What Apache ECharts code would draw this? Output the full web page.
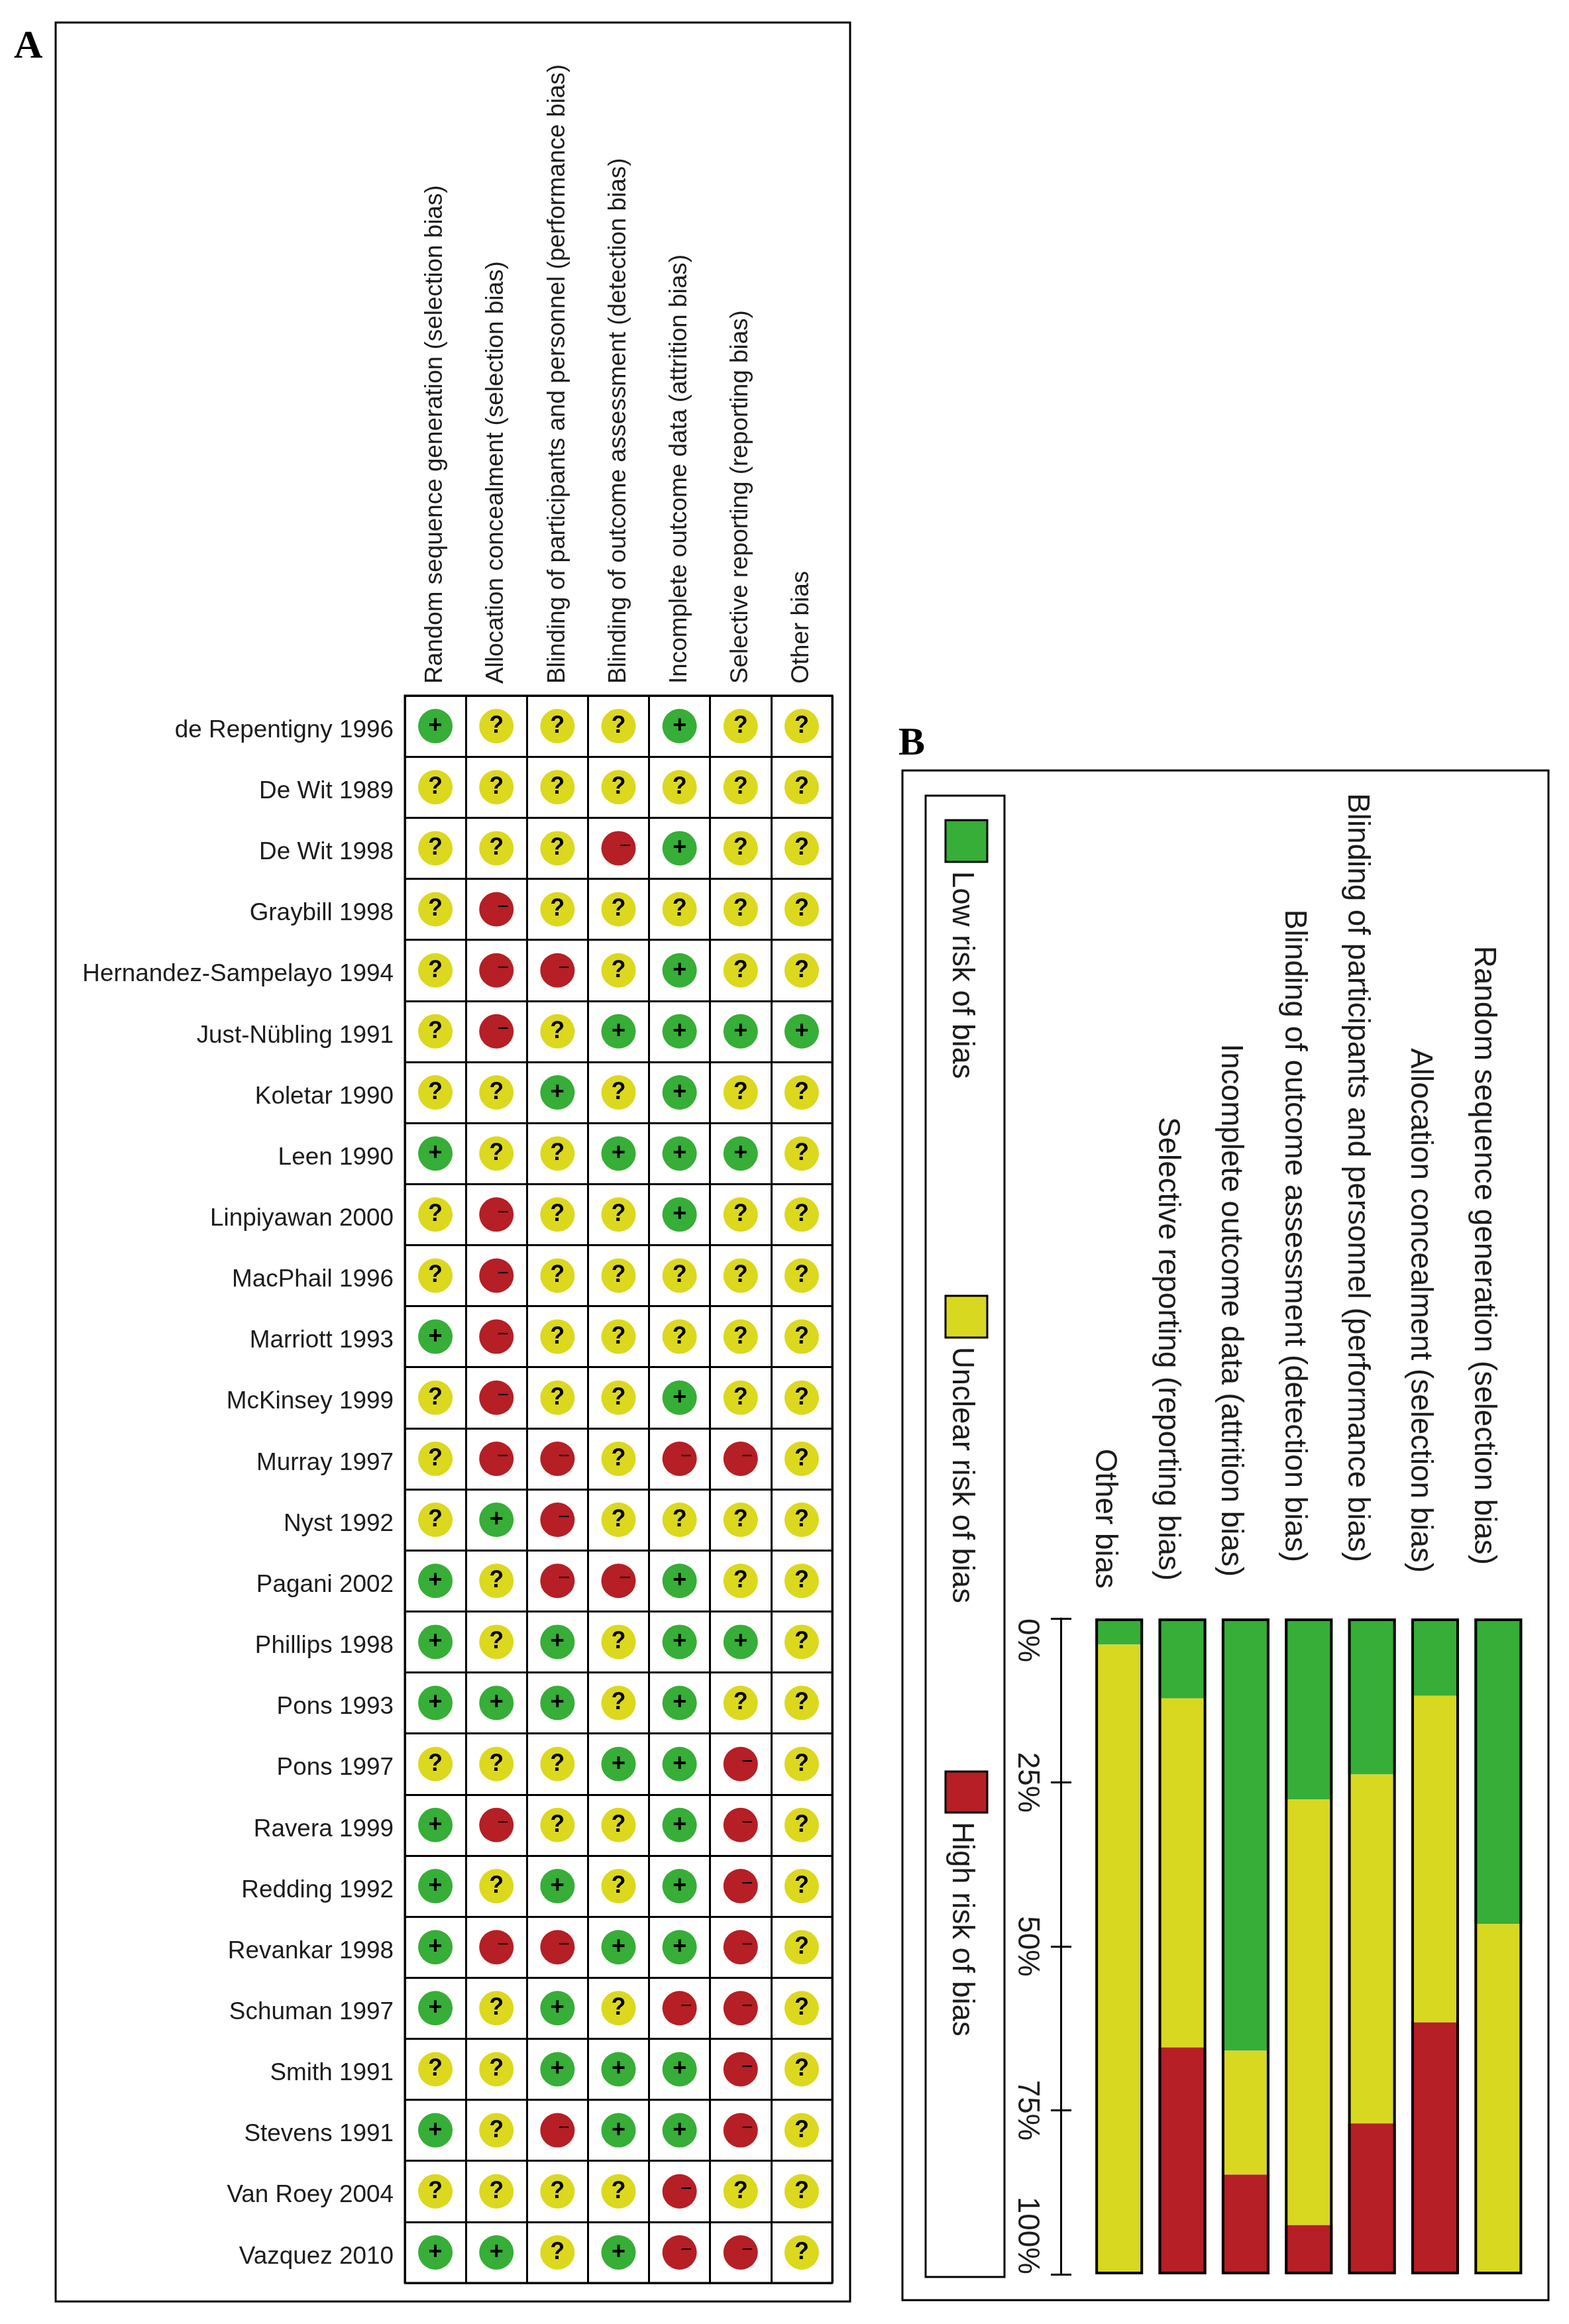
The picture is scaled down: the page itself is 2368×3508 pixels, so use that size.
<!DOCTYPE html>
<html>
<head>
<meta charset="utf-8">
<title>Risk of bias</title>
<script src="https://cdn.jsdelivr.net/npm/echarts@6/dist/echarts.min.js"></script>
<style>
  html, body { margin: 0; padding: 0; background: #fff; }
  #chart { width: 2368px; height: 3508px; }
</style>
</head>
<body>
<div id="chart"></div>
<script>
const domains = [
  'Random sequence generation (selection bias)',
  'Allocation concealment (selection bias)',
  'Blinding of participants and personnel (performance bias)',
  'Blinding of outcome assessment (detection bias)',
  'Incomplete outcome data (attrition bias)',
  'Selective reporting (reporting bias)',
  'Other bias'
];

const studies = [
  'de Repentigny 1996', 'De Wit 1989', 'De Wit 1998', 'Graybill 1998',
  'Hernandez-Sampelayo 1994', 'Just-Nübling 1991', 'Koletar 1990', 'Leen 1990',
  'Linpiyawan 2000', 'MacPhail 1996', 'Marriott 1993', 'McKinsey 1999',
  'Murray 1997', 'Nyst 1992', 'Pagani 2002', 'Phillips 1998', 'Pons 1993',
  'Pons 1997', 'Ravera 1999', 'Redding 1992', 'Revankar 1998', 'Schuman 1997',
  'Smith 1991', 'Stevens 1991', 'Van Roey 2004', 'Vazquez 2010'
];

// one string per study, one character per domain
const ratings = [
  '+???+??', '???????', '???-+??', '?-?????', '?--?+??', '?-?++++', '??+?+??',
  '+??+++?', '?-??+??', '?-?????', '+-?????', '?-??+??', '?--?--?', '?+-????',
  '+?--+??', '+?+?++?', '+++?+??', '???++-?', '+-??+-?', '+?+?+-?', '+--++-?',
  '+?+?--?', '??+++-?', '+?-++-?', '????-??', '++?+--?'
];

// panel B, left to right
const barDomains = domains.slice().reverse();
const lowRisk = [4, 12.2, 65.9, 27.6, 23.8, 11.8, 46.6];
const unclearRisk = [96, 53.2, 18.9, 64.9, 53.2, 49.8, 53.4];
const highRisk = [0, 34.6, 15.2, 7.5, 23, 38.4, 0];
const fullBar = [100, 100, 100, 100, 100, 100, 100];
const legendNames = ['Low risk of bias', 'Unclear risk of bias', 'High risk of bias'];

const GREEN = '#36AE37';
const YELLOW = '#D8D821';
const RED = '#B51F25';
const FONT = '"Liberation Sans", Arial, sans-serif';
const INK = '#1c1c1c';

// how far each rotated label in panel B stops short of the bars
const barLabelGaps = [45, 57, 63, 85, 85, 69, 81];

function cellsFor(mark) {
  const cells = [];
  ratings.forEach((row, r) => {
    row.split('').forEach((c, d) => {
      if (c === mark) cells.push([d, r]);
    });
  });
  return cells;
}

function ratingSeries(mark, color, label) {
  return {
    type: 'scatter',
    xAxisIndex: 0,
    yAxisIndex: 0,
    symbol: 'circle',
    symbolSize: 52,
    data: cellsFor(mark),
    itemStyle: { color: color, opacity: 1 },
    label: Object.assign({
      show: true,
      position: 'inside',
      color: '#000',
      fontFamily: FONT
    }, label),
    silent: true
  };
}

function riskSeries(name, values, color) {
  return {
    name: name,
    type: 'bar',
    stack: 'risk',
    xAxisIndex: 1,
    yAxisIndex: 1,
    barWidth: 72,
    data: values,
    itemStyle: { color: color },
    silent: true
  };
}

function legendEntry(i, color, swatchTop, swatchHeight) {
  return [
    {
      type: 'rect',
      shape: { x: 1427, y: swatchTop, width: 63, height: swatchHeight },
      style: { fill: color, stroke: '#000', lineWidth: 3 }
    },
    {
      type: 'text',
      x: 1451,
      y: swatchTop + swatchHeight + 14,
      rotation: -Math.PI / 2,
      style: {
        text: legendNames[i],
        font: '45.5px ' + FONT,
        fill: INK,
        textAlign: 'left',
        textVerticalAlign: 'middle'
      }
    }
  ];
}

function frame(x, y, w, h) {
  return {
    type: 'rect',
    shape: { x: x, y: y, width: w, height: h },
    style: { fill: 'none', stroke: '#000', lineWidth: 3 }
  };
}

function panelLetter(text, x, y) {
  return {
    type: 'text',
    x: x,
    y: y,
    style: {
      text: text,
      font: 'bold 60px "Liberation Serif", serif',
      fill: '#000',
      textAlign: 'left',
      textVerticalAlign: 'top'
    }
  };
}

const gridLine = { show: true, interval: 0, lineStyle: { color: '#000', width: 3 } };

const option = {
  backgroundColor: '#fff',
  animation: false,
  graphic: {
    elements: [
      frame(84, 34, 1199, 3440),
      frame(1362, 1163, 975, 2309),
      frame(1397, 1201, 119, 2236),
      panelLetter('A', 21, 41),
      panelLetter('B', 1356, 1093)
    ]
      .concat(legendEntry(0, GREEN, 1238, 63))
      .concat(legendEntry(1, YELLOW, 1956, 63))
      .concat(legendEntry(2, RED, 2674, 62))
  },
  grid: [
    { left: 611, top: 1050, width: 645, height: 2396, show: true, borderColor: '#000', borderWidth: 3 },
    { left: 1641.5, top: 2443, width: 667.5, height: 990 }
  ],
  xAxis: [
    {
      type: 'category',
      gridIndex: 0,
      position: 'top',
      data: domains,
      axisLine: { show: false },
      axisTick: { show: false },
      splitLine: gridLine,
      axisLabel: {
        interval: 0,
        rotate: -90,
        margin: 18,
        fontFamily: FONT,
        fontSize: 36.9,
        color: INK
      }
    },
    {
      type: 'category',
      gridIndex: 1,
      position: 'top',
      data: barDomains.map((d, i) => ({
        value: d,
        textStyle: { verticalAlign: 'top', padding: [0, barLabelGaps[i], 0, 0] }
      })),
      axisLine: { show: false, onZero: false },
      axisTick: { show: false },
      axisLabel: {
        interval: 0,
        rotate: 90,
        margin: 0,
        fontFamily: FONT,
        fontSize: 45.8,
        color: INK
      }
    }
  ],
  yAxis: [
    {
      type: 'category',
      gridIndex: 0,
      inverse: true,
      data: studies,
      axisLine: { show: false },
      axisTick: { show: false },
      splitLine: gridLine,
      axisLabel: {
        interval: 0,
        margin: 17,
        verticalAlign: 'top',
        padding: [-12, 0, 0, 0],
        fontFamily: FONT,
        fontSize: 36.9,
        color: INK
      }
    },
    {
      type: 'value',
      gridIndex: 1,
      inverse: true,
      min: 0,
      max: 100,
      interval: 25,
      offset: 40.5,
      position: 'left',
      splitLine: { show: false },
      axisLine: { show: true, onZero: false, lineStyle: { color: '#000', width: 3 } },
      axisTick: { show: true, length: 15, lineStyle: { color: '#000', width: 3 } },
      axisLabel: {
        rotate: -90,
        margin: 28,
        formatter: '{value}%',
        alignMinLabel: 'left',
        alignMaxLabel: 'right',
        fontFamily: FONT,
        fontSize: 45.8,
        color: INK
      }
    },
    {
      // same scale again, only to carry the inner half of the ticks
      type: 'value',
      gridIndex: 1,
      inverse: true,
      min: 0,
      max: 100,
      interval: 25,
      offset: 40.5,
      position: 'left',
      splitLine: { show: false },
      axisLine: { show: false, onZero: false },
      axisTick: { show: true, inside: true, length: 16, lineStyle: { color: '#000', width: 3 } },
      axisLabel: { show: false }
    }
  ],
  series: [
    ratingSeries('+', GREEN, { formatter: '+', fontSize: 36, fontWeight: 'bold' }),
    ratingSeries('?', '#DCD81E', { formatter: '?', fontSize: 36, fontWeight: 'bold' }),
    ratingSeries('-', RED, { formatter: '−', fontSize: 30, offset: [10, -3] }),
    riskSeries(legendNames[0], lowRisk, GREEN),
    riskSeries(legendNames[1], unclearRisk, YELLOW),
    riskSeries(legendNames[2], highRisk, RED),
    {
      name: 'outline',
      type: 'bar',
      xAxisIndex: 1,
      yAxisIndex: 1,
      barWidth: 72,
      barGap: '-100%',
      z: 5,
      data: fullBar,
      itemStyle: { color: 'rgba(0,0,0,0)', borderColor: '#000', borderWidth: 4 },
      silent: true
    }
  ]
};

const myChart = echarts.init(document.getElementById('chart'), null, { renderer: 'canvas' });
myChart.setOption(option);
</script>
</body>
</html>
